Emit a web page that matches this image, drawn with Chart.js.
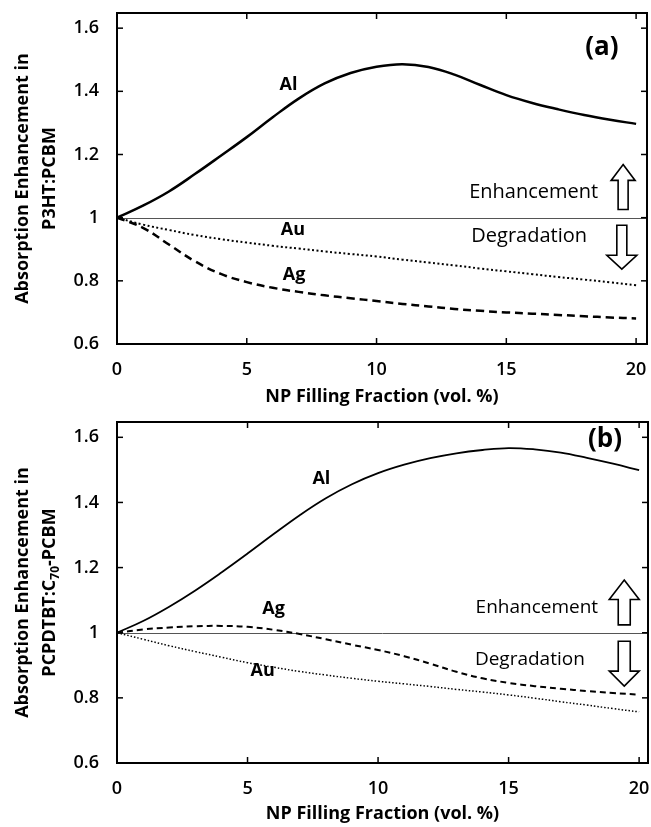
<!DOCTYPE html>
<html>
<head>
<meta charset="utf-8">
<script src="https://cdn.jsdelivr.net/npm/chart.js@4.4.1/dist/chart.umd.min.js"></script>
<style>
  html, body { margin: 0; padding: 0; background: #fff; }
  #wrap { position: relative; width: 651px; height: 827px; overflow: hidden; }
  canvas { position: absolute; left: 0; }
  #panel-a { top: 0; }
  #panel-b { top: 410px; }
</style>
</head>
<body>
<div id="wrap">
  <canvas id="panel-a" width="651" height="410"></canvas>
  <canvas id="panel-b" width="651" height="417"></canvas>
</div>
<script>
// ---- data ----
const fillFraction = [0, 1, 2, 3, 4, 5, 6, 7, 8, 9, 10, 11, 12, 13, 14, 15, 16, 17, 18, 19, 20];

// (a) P3HT:PCBM
const alP3HT = [1.000, 1.038, 1.083, 1.138, 1.196, 1.255, 1.318, 1.377, 1.425, 1.458, 1.478,
                1.486, 1.477, 1.453, 1.420, 1.388, 1.363, 1.343, 1.325, 1.310, 1.297];
const auP3HT = [1.000, 0.978, 0.961, 0.945, 0.932, 0.921, 0.911, 0.902, 0.893, 0.885, 0.877,
                0.867, 0.858, 0.849, 0.839, 0.830, 0.821, 0.812, 0.804, 0.795, 0.786];
const agP3HT = [1.000, 0.968, 0.915, 0.862, 0.822, 0.796, 0.778, 0.765, 0.754, 0.745, 0.736,
                0.727, 0.719, 0.711, 0.705, 0.700, 0.696, 0.692, 0.688, 0.684, 0.681];

// (b) PCPDTBT:C70-PCBM
const alPCPDTBT = [1.000, 1.036, 1.080, 1.130, 1.185, 1.243, 1.303, 1.361, 1.413, 1.456, 1.490,
                   1.516, 1.536, 1.551, 1.561, 1.567, 1.563, 1.553, 1.537, 1.519, 1.499];
const agPCPDTBT = [1.000, 1.010, 1.016, 1.020, 1.021, 1.018, 1.009, 0.996, 0.980, 0.963, 0.947,
                   0.928, 0.905, 0.880, 0.860, 0.846, 0.836, 0.828, 0.821, 0.815, 0.810];
const auPCPDTBT = [1.000, 0.980, 0.960, 0.942, 0.925, 0.908, 0.894, 0.881, 0.870, 0.860, 0.851,
                   0.843, 0.835, 0.826, 0.818, 0.809, 0.799, 0.788, 0.778, 0.767, 0.757];

const xTicks = [0, 5, 10, 15, 20];
const xTickLabels = ['0', '5', '10', '15', '20'];
const yTicks = [0.6, 0.8, 1.0, 1.2, 1.4, 1.6];
const yTickLabels = ['0.6', '0.8', '1', '1.2', '1.4', '1.6'];

const xTitle = 'NP Filling Fraction (vol. %)';
const yTitleA = ['Absorption Enhancement in', 'P3HT:PCBM'];
const yTitleB = ['Absorption Enhancement in', 'PCPDTBT:C_{70}-PCBM'];

const FONT = "'Open Sans', sans-serif";

// ---- drawing helpers ----
function line(ctx, x1, y1, x2, y2) {
    ctx.beginPath();
    ctx.moveTo(x1, y1);
    ctx.lineTo(x2, y2);
    ctx.stroke();
}

function blockArrow(ctx, cx, yTip, yBase, yEnd, hw, sw) {
    ctx.beginPath();
    ctx.moveTo(cx, yTip);
    ctx.lineTo(cx + hw, yBase);
    ctx.lineTo(cx + sw, yBase);
    ctx.lineTo(cx + sw, yEnd);
    ctx.lineTo(cx - sw, yEnd);
    ctx.lineTo(cx - sw, yBase);
    ctx.lineTo(cx - hw, yBase);
    ctx.closePath();
    ctx.fillStyle = '#fff';
    ctx.fill();
    ctx.lineWidth = 1.6;
    ctx.strokeStyle = '#000';
    ctx.stroke();
}

// text with _{sub} parts, drawn centred at (0,0) in the current transform
function richText(ctx, text, size) {
    const parts = text.split(/_\{(.*?)\}/);
    const big = `bold ${size}px ${FONT}`;
    const small = `bold ${Math.round(size * 0.65)}px ${FONT}`;
    let total = 0;
    parts.forEach((p, i) => { ctx.font = i % 2 ? small : big; total += ctx.measureText(p).width; });
    let x = -total / 2;
    parts.forEach((p, i) => {
        ctx.font = i % 2 ? small : big;
        ctx.fillText(p, x, i % 2 ? size * 0.3 : 0);
        x += ctx.measureText(p).width;
    });
}

const panelDeco = {
    id: 'panelDeco',
    beforeDatasetsDraw(chart, args, o) {
        const { ctx, chartArea: a, scales: { y } } = chart;
        ctx.save();
        ctx.strokeStyle = '#555';
        ctx.lineWidth = 1;
        const py = Math.round(y.getPixelForValue(1)) + 0.5;
        line(ctx, a.left, py, a.right, py);
        ctx.restore();
    },
    afterDatasetsDraw(chart, args, o) {
        const { ctx, chartArea: a, scales: { x, y } } = chart;
        ctx.save();

        // frame + inward ticks on all sides
        ctx.strokeStyle = '#000';
        ctx.lineWidth = 2;
        ctx.strokeRect(a.left, a.top, a.right - a.left, a.bottom - a.top);
        ctx.lineWidth = 1.5;
        xTicks.forEach(v => {
            const px = x.getPixelForValue(v);
            if (px < a.left + 2) return;
            line(ctx, px, a.bottom, px, a.bottom - 6);
            line(ctx, px, a.top, px, a.top + 6);
        });
        yTicks.forEach(v => {
            const py = y.getPixelForValue(v);
            if (py > a.bottom - 2) return;
            line(ctx, a.left, py, a.left + 6, py);
            line(ctx, a.right, py, a.right - 6, py);
        });

        // y title, two lines rotated
        ctx.fillStyle = '#000';
        ctx.textAlign = 'left';
        ctx.textBaseline = 'middle';
        const cy = (a.top + a.bottom) / 2;
        o.yTitle.forEach((t, i) => {
            ctx.save();
            ctx.translate(o.yTitleX[i], cy);
            ctx.rotate(-Math.PI / 2);
            richText(ctx, t, 18);
            ctx.restore();
        });

        // curve labels and notes
        o.labels.forEach(l => {
            ctx.font = `${l.weight} ${l.size}px ${FONT}`;
            ctx.textAlign = l.align;
            ctx.textBaseline = l.baseline || 'alphabetic';
            ctx.fillText(l.text, x.getPixelForValue(l.x), y.getPixelForValue(l.y));
        });

        // enhancement / degradation arrows
        o.arrows.forEach(ar => {
            blockArrow(ctx, x.getPixelForValue(ar.x), y.getPixelForValue(ar.tip),
                y.getPixelForValue(ar.base), y.getPixelForValue(ar.end), ar.hw, ar.sw);
        });
        ctx.restore();
    }
};

function series(ys) {
    return fillFraction.map((v, i) => ({ x: v, y: ys[i] }));
}

function buildPanel(id, opts) {
    return new Chart(document.getElementById(id), {
        type: 'line',
        data: {
            datasets: opts.series.map(s => ({
                label: s.label,
                data: series(s.values),
                borderColor: '#000',
                borderWidth: s.width,
                borderDash: s.dash,
                pointRadius: 0,
                tension: 0.4,
                fill: false
            }))
        },
        options: {
            responsive: false,
            animation: false,
            devicePixelRatio: 1,
            layout: { padding: opts.padding },
            plugins: {
                legend: { display: false },
                tooltip: { enabled: false },
                panelDeco: {
                    yTitle: opts.yTitle,
                    yTitleX: [23, 50],
                    labels: opts.labels,
                    arrows: opts.arrows
                }
            },
            scales: {
                x: {
                    type: 'linear',
                    min: 0,
                    max: opts.xMax,
                    grid: { display: false },
                    border: { display: false },
                    afterBuildTicks: s => { s.ticks = xTicks.map(v => ({ value: v })); },
                    afterFit: s => {
                        s.height = opts.xAxisHeight;
                        s.paddingLeft = 0;
                        s.paddingRight = 0;
                    },
                    ticks: {
                        color: '#000',
                        padding: 7,
                        maxRotation: 0,
                        font: { family: FONT, size: 18, weight: '600' },
                        callback: (v, i) => xTickLabels[i]
                    },
                    title: {
                        display: true,
                        text: xTitle,
                        color: '#000',
                        font: { family: FONT, size: 18, weight: 'bold' },
                        padding: { top: 0, bottom: opts.titlePad }
                    }
                },
                y: {
                    type: 'linear',
                    min: 0.6,
                    max: opts.yMax,
                    grid: { display: false },
                    border: { display: false },
                    afterBuildTicks: s => { s.ticks = yTicks.map(v => ({ value: v })); },
                    afterFit: s => {
                        s.width = 117;
                        s.paddingTop = 0;
                        s.paddingBottom = 0;
                    },
                    ticks: {
                        color: '#000',
                        padding: 10,
                        font: { family: FONT, size: 18, weight: '600' },
                        callback: (v, i) => yTickLabels[i]
                    }
                }
            }
        },
        plugins: [panelDeco]
    });
}

buildPanel('panel-a', {
    padding: { top: 13, right: 4, left: 0, bottom: 0 },
    xMax: 20.42,
    yMax: 1.648,
    xAxisHeight: 66,
    titlePad: 2,
    yTitle: yTitleA,
    series: [
        { label: 'Al', values: alP3HT, width: 2.5, dash: [] },
        { label: 'Au', values: auP3HT, width: 2, dash: [2, 2.5] },
        { label: 'Ag', values: agP3HT, width: 2.5, dash: [8, 5] }
    ],
    labels: [
        { text: 'Al', x: 6.61, y: 1.404, size: 18, weight: 'bold', align: 'center' },
        { text: 'Au', x: 6.78, y: 0.946, size: 18, weight: 'bold', align: 'center' },
        { text: 'Ag', x: 6.82, y: 0.802, size: 18, weight: 'bold', align: 'center' },
        { text: '(a)', x: 18.68, y: 1.539, size: 26, weight: 'bold', align: 'center', baseline: 'middle' },
        { text: 'Enhancement', x: 18.54, y: 1.062, size: 20, weight: 'normal', align: 'right' },
        { text: 'Degradation', x: 18.11, y: 0.923, size: 20, weight: 'normal', align: 'right' }
    ],
    arrows: [
        { x: 19.5, tip: 1.168, base: 1.118, end: 1.026, hw: 12, sw: 5 },
        { x: 19.45, tip: 0.837, base: 0.881, end: 0.976, hw: 15, sw: 5 }
    ]
});

buildPanel('panel-b', {
    padding: { top: 12, right: 3, left: 0, bottom: 0 },
    xMax: 20.34,
    yMax: 1.647,
    xAxisHeight: 64,
    titlePad: 2,
    yTitle: yTitleB,
    series: [
        { label: 'Al', values: alPCPDTBT, width: 1.8, dash: [] },
        { label: 'Ag', values: agPCPDTBT, width: 2, dash: [6, 4] },
        { label: 'Au', values: auPCPDTBT, width: 1.5, dash: [1.5, 2] }
    ],
    labels: [
        { text: 'Al', x: 7.83, y: 1.456, size: 18, weight: 'bold', align: 'center' },
        { text: 'Ag', x: 6.0, y: 1.056, size: 18, weight: 'bold', align: 'center' },
        { text: 'Au', x: 5.58, y: 0.867, size: 18, weight: 'bold', align: 'center' },
        { text: '(b)', x: 18.69, y: 1.594, size: 26, weight: 'bold', align: 'center', baseline: 'middle' },
        { text: 'Enhancement', x: 18.43, y: 1.0615, size: 19, weight: 'normal', align: 'right' },
        { text: 'Degradation', x: 17.92, y: 0.901, size: 19, weight: 'normal', align: 'right' }
    ],
    arrows: [
        { x: 19.43, tip: 1.162, base: 1.102, end: 1.024, hw: 15, sw: 6 },
        { x: 19.43, tip: 0.836, base: 0.882, end: 0.974, hw: 15, sw: 6 }
    ]
});
</script>
</body>
</html>
